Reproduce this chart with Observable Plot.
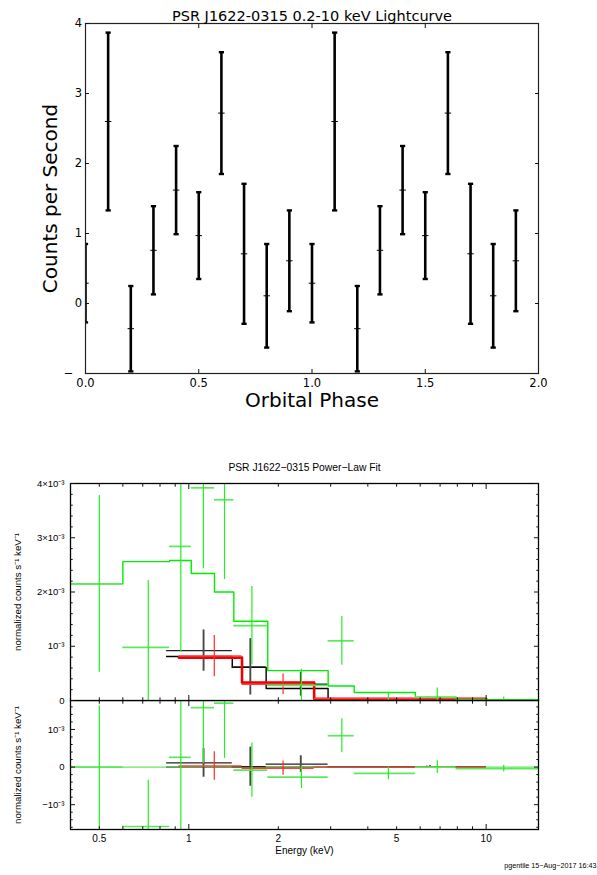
<!DOCTYPE html>
<html><head><meta charset="utf-8">
<script src="https://cdn.jsdelivr.net/npm/d3@7"></script>
<script src="https://cdn.jsdelivr.net/npm/@observablehq/plot@0.6"></script>
<style>body{margin:0;background:#fff;width:597px;height:875px;overflow:hidden} svg{display:block}</style>
</head><body><div id="chart"></div>
<script>
// ---------- Lightcurve (top) ----------
const lcTitle = "PSR J1622-0315 0.2-10 keV Lightcurve";
const lcXLabel = "Orbital Phase";
const lcYLabel = "Counts per Second";
const phase = [0.0,0.1,0.2,0.3,0.4,0.5,0.6,0.7,0.8,0.9,1.0,1.1,1.2,1.3,1.4,1.5,1.6,1.7,1.8,1.9];
const rate = [0.29,2.60,-0.36,0.76,1.62,0.97,2.72,0.71,0.11,0.61,0.29,2.60,-0.36,0.76,1.62,0.97,2.72,0.71,0.11,0.61];
const rateErr = [0.56,1.27,0.61,0.63,0.63,0.62,0.87,1.00,0.74,0.72,0.56,1.27,0.61,0.63,0.63,0.62,0.87,1.00,0.74,0.72];
const phaseTicks = [0, 0.5, 1, 1.5, 2];
const phaseTickLabels = ["0.0","0.5","1.0","1.5","2.0"];
const rateTicks = [-1, 0, 1, 2, 3, 4];
const rateTickLabels = ["\u2212","0","1","2","3","4"];

// ---------- Spectrum (bottom), units of 1e-3 ----------
const specTitle = "PSR J1622\u22120315 Power\u2212Law Fit";
const specYLabel = "normalized counts s\u207B\u00B9 keV\u207B\u00B9";
const specXLabel = "Energy (keV)";
const caption = "pgentile 15\u2212Aug\u22122017 16:43";
const energyTicks = [0.5, 1, 2, 5, 10];
const energyTickLabels = ["0.5","1","2","5","10"];
const energyMajor = [1, 10];
const energyMinor = [0.5,0.6,0.7,0.8,0.9,2,3,4,5,6,7,8,9];
const specTicks = [0, 1, 2, 3, 4];
const specTickLabels = ["0","10\u207B\u00B3","2\u00D710\u207B\u00B3","3\u00D710\u207B\u00B3","4\u00D710\u207B\u00B3"];
const residTicks = [-1, 0, 1];
const residTickLabels = ["\u221210\u207B\u00B3","0","10\u207B\u00B3"];

const blackLo = [0.842, 1.40, 1.82, 2.94];
const blackHi = [1.40, 1.82, 2.94, 10];
const blackData = [0.92, 0.62, 0.30, 0.03];
const blackErr = [0.38, 0.52, 0.22, 0.03];
const blackModel = [0.81, 0.61, 0.22, 0.02];

const redLo = [0.926, 1.51, 2.64];
const redHi = [1.51, 2.64, 10];
const redData = [0.82, 0.30, 0.035];
const redErr = [0.38, 0.19, 0.03];
const redModel = [0.79, 0.33, 0.03];

const greenLo = [0.4, 0.6, 0.861, 1.019, 1.22, 1.417, 1.843, 2.942, 3.6, 5.78, 7.92];
const greenHi = [0.6, 0.861, 1.019, 1.22, 1.417, 1.843, 2.942, 3.6, 5.78, 7.92, 15];
const greenData = [2.15, 0.98, 2.84, 3.92, 3.70, 1.38, 0.28, 1.10, -0.02, 0.06, -0.025];
const greenErr = [1.63, 1.23, 1.95, 1.49, 1.47, 0.72, 0.30, 0.45, 0.17, 0.17, 0.09];
const greenModel = [2.15, 2.56, 2.58, 2.34, 2.00, 1.46, 0.55, 0.266, 0.148, 0.063, 0.015];

// ---------- helpers ----------
const hbar = {draw(ctx, size) { const w = Math.sqrt(size / Math.PI); ctx.moveTo(-w, 0); ctx.lineTo(w, 0); }};
const fmt = (ticks, labels) => d => labels[ticks.indexOf(d)];
const tickOnly = (k, anchor, ticks, size, extra = {}) =>
  (k === "x" ? Plot.axisX : Plot.axisY)({anchor, ticks, tickSize: size, fill: "none", label: null, stroke: "#111", ...extra});

const root = document.getElementById("chart");

// ---------- Top chart ----------
const lc = phase.map((p, i) => ({p, r: rate[i], e: rateErr[i]}));
const lcFont = "DejaVu Sans";
root.appendChild(Plot.plot({
  width: 597, height: 440,
  marginLeft: 85, marginRight: 59, marginTop: 23, marginBottom: 67,
  x: {domain: [0, 2], axis: null},
  y: {domain: [-1, 4], axis: null},
  style: {fontFamily: lcFont, background: "white", color: "black"},
  marks: [
    Plot.ruleX(lc, {x: "p", y1: d => d.r - d.e, y2: d => d.r + d.e, stroke: "black", strokeWidth: 2.6, clip: true}),
    Plot.dot(lc, {x: "p", y: d => d.r + d.e, symbol: hbar, r: 2.6, stroke: "black", strokeWidth: 2.4, clip: true}),
    Plot.dot(lc, {x: "p", y: d => d.r - d.e, symbol: hbar, r: 2.6, stroke: "black", strokeWidth: 2.4, clip: true}),
    Plot.dot(lc, {x: "p", y: "r", symbol: hbar, r: 3.2, stroke: "black", strokeWidth: 1, clip: true}),
    Plot.frame({stroke: "#222", strokeWidth: 1.2}),
    tickOnly("x", "bottom", [0.5, 1, 1.5], -4),
    tickOnly("x", "top", [0.5, 1, 1.5], -4),
    tickOnly("y", "left", [0, 1, 2, 3, 4], -4),
    tickOnly("y", "right", [0, 1, 2, 3], -4),
    Plot.axisX({anchor: "bottom", ticks: phaseTicks, tickSize: 0, tickPadding: 5, tickFormat: fmt(phaseTicks, phaseTickLabels), fontSize: 11.5, label: null}),
    Plot.axisY({anchor: "left", ticks: rateTicks.filter(t => t >= 0), tickSize: 0, tickPadding: 3.5, tickFormat: fmt(rateTicks, rateTickLabels), fontSize: 11.5, label: null}),
    Plot.axisY({anchor: "left", ticks: rateTicks.filter(t => t < 0), tickSize: 0, tickPadding: 12, tickFormat: fmt(rateTicks, rateTickLabels), fontSize: 11.5, label: null}),
    Plot.text([lcTitle], {text: d => d, frameAnchor: "top", dy: -12.5, fontSize: 14.5}),
    Plot.text([lcXLabel], {text: d => d, frameAnchor: "bottom", dy: 33.5, fontSize: 20}),
    Plot.text([lcYLabel], {text: d => d, frameAnchor: "left", textAnchor: "middle", dx: -35, rotate: -90, fontSize: 20})
  ]
}));

// ---------- Spectrum data tables ----------
function makeGroup(lo, hi, data, err, model, col) {
  const bins = lo.map((l, i) => ({lo: l, hi: hi[i], c: (l + hi[i]) / 2, v: data[i], e: err[i], m: model[i], res: data[i] - model[i]}));
  const step = lo.map((l, i) => ({x: l, y: model[i]}));
  step.push({x: hi[hi.length - 1], y: model[model.length - 1]});
  return {bins, step, col};
}
const groups = [
  makeGroup(blackLo, blackHi, blackData, blackErr, blackModel,
    {model: "#000", mw: 1.4, dataV: "#4a4a4a", vw: 1.9, dataH: "#222", hw: 1.3, zero: "#000"}),
  makeGroup(redLo, redHi, redData, redErr, redModel,
    {model: "#f00000", mw: 2.6, dataV: "#ff2a2a", vw: 1.2, dataH: "#ff4040", hw: 1.4, zero: null}),
  makeGroup(greenLo, greenHi, greenData, greenErr, greenModel,
    {model: "#00ee00", mw: 1.4, dataV: "#22f022", vw: 1.2, dataH: "#5ce85c", hw: 1.7, zero: "#30dd30"})
];
const specFont = "Liberation Sans";
const xScale = {type: "log", domain: [0.4, 15], axis: null};

function frameAxes(yMajor, yMinor) {
  return [
    Plot.frame({stroke: "#000", strokeWidth: 1.3}),
    tickOnly("x", "bottom", energyMajor, -5), tickOnly("x", "bottom", energyMinor, -2.7),
    tickOnly("x", "top", energyMajor, -5), tickOnly("x", "top", energyMinor, -2.7),
    tickOnly("y", "left", yMajor, -5), tickOnly("y", "left", yMinor, -2.7),
    tickOnly("y", "right", yMajor, -5), tickOnly("y", "right", yMinor, -2.7)
  ];
}

// ---------- Spectrum main panel ----------
const mainMinor = d3.range(0, 4.001, 0.2).filter(v => Math.abs(v - Math.round(v)) > 0.01);
root.appendChild(Plot.plot({
  width: 597, height: 260,
  marginLeft: 70, marginRight: 59, marginTop: 43, marginBottom: 0,
  x: xScale, y: {domain: [0, 4], axis: null},
  style: {fontFamily: specFont, background: "white", color: "black", overflow: "visible", position: "relative", zIndex: 2},
  marks: [
    ...groups.flatMap(g => [
      Plot.line(g.step, {x: "x", y: "y", curve: "step-after", stroke: g.col.model, strokeWidth: g.col.mw, clip: true}),
      Plot.ruleY(g.bins, {y: "v", x1: "lo", x2: "hi", stroke: g.col.dataH, strokeWidth: g.col.hw, clip: true}),
      Plot.ruleX(g.bins, {x: "c", y1: d => d.v - d.e, y2: d => d.v + d.e, stroke: g.col.dataV, strokeWidth: g.col.vw, clip: true})
    ]),
    ...frameAxes(specTicks, mainMinor),
    Plot.axisY({anchor: "left", ticks: specTicks, tickSize: 0, tickPadding: 6, tickFormat: fmt(specTicks, specTickLabels), fontSize: 9.5, label: null}),
    Plot.text([specTitle], {text: d => d, frameAnchor: "top", dy: -20, fontSize: 10.3}),
    Plot.text([specYLabel], {text: d => d, frameAnchor: "left", textAnchor: "middle", dx: -53, rotate: -90, fontSize: 9.7})
  ]
}));

// ---------- Spectrum residual panel ----------
const residMinor = d3.range(-1.6, 1.75, 0.2).filter(v => Math.abs(v - Math.round(v)) > 0.01);
root.appendChild(Plot.plot({
  width: 597, height: 175,
  marginLeft: 70, marginRight: 59, marginTop: 0, marginBottom: 46,
  x: xScale, y: {domain: [-1.66, 1.77], axis: null},
  style: {fontFamily: specFont, background: "transparent", color: "black", position: "relative", zIndex: 1},
  marks: [
    ...groups.filter(g => g.col.zero).map(g =>
      Plot.ruleY([0], {x1: g.bins[0].lo, x2: g.bins[g.bins.length - 1].hi, stroke: g.col.zero, strokeWidth: 1.3, strokeOpacity: 0.75, clip: true})),
    ...groups.flatMap(g => [
      Plot.ruleY(g.bins, {y: "res", x1: "lo", x2: "hi", stroke: g.col.dataH, strokeWidth: g.col.hw, clip: true}),
      Plot.ruleX(g.bins, {x: "c", y1: d => d.res - d.e, y2: d => d.res + d.e, stroke: g.col.dataV, strokeWidth: g.col.vw, clip: true})
    ]),
    ...frameAxes(residTicks, residMinor),
    Plot.axisY({anchor: "left", ticks: residTicks, tickSize: 0, tickPadding: 6, tickFormat: fmt(residTicks, residTickLabels), fontSize: 9.5, label: null}),
    Plot.axisX({anchor: "bottom", ticks: energyTicks, tickSize: 0, tickPadding: 5, tickFormat: fmt(energyTicks, energyTickLabels), fontSize: 10, label: null}),
    Plot.text([specXLabel], {text: d => d, frameAnchor: "bottom", dy: 24, fontSize: 10}),
    Plot.text([specYLabel], {text: d => d, frameAnchor: "left", textAnchor: "middle", dx: -53, rotate: -90, fontSize: 9.7}),
    Plot.text([caption], {text: d => d, frameAnchor: "bottom-right", dx: 58, dy: 38.7, textAnchor: "end", fontSize: 7.2})
  ]
}));
</script></body></html>
